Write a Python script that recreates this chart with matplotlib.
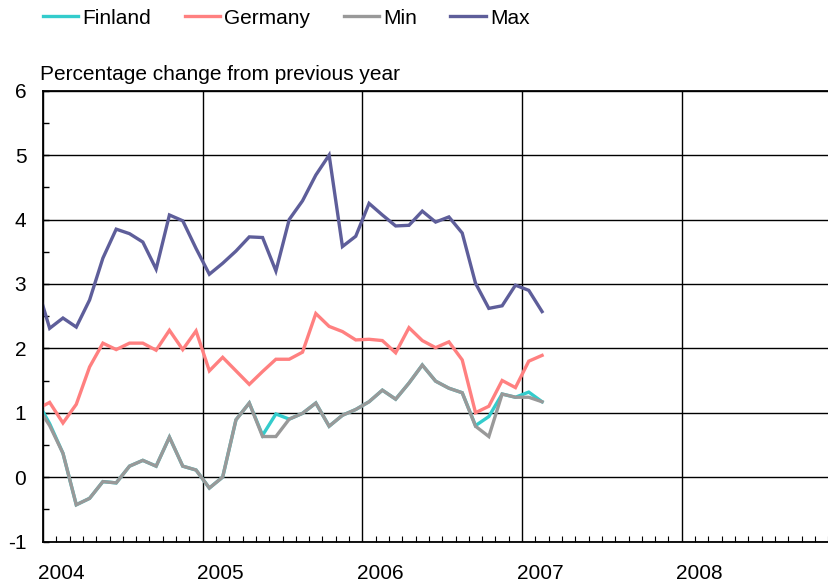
import matplotlib
matplotlib.use('Agg')
import matplotlib.pyplot as plt
import matplotlib.transforms as mtransforms
import numpy as np
import pandas as pd

plt.rcParams['font.family'] = ['Liberation Sans', 'DejaVu Sans']
plt.rcParams['font.size'] = 15
plt.rcParams['axes.unicode_minus'] = False

# monthly, Dec 2003 .. Feb 2007 (Dec 2003 only feeds the clipped first segment)
months = pd.period_range('2003-12', '2007-02', freq='M')

finland = [1.20, 0.83, 0.37, -0.43, -0.33, -0.07, -0.09, 0.17, 0.26, 0.17, 0.62, 0.17, 0.11,
           -0.17, 0.00, 0.89, 1.15, 0.65, 0.98, 0.90, 0.99, 1.15, 0.79, 0.96, 1.05,
           1.17, 1.35, 1.21, 1.46, 1.74, 1.49, 1.38, 1.31, 0.80, 0.94, 1.29, 1.24,
           1.32, 1.17]
germany = [1.05, 1.16, 0.84, 1.13, 1.71, 2.08, 1.98, 2.08, 2.08, 1.97, 2.28, 1.98, 2.27,
           1.65, 1.86, 1.65, 1.44, 1.64, 1.83, 1.83, 1.94, 2.54, 2.34, 2.26, 2.13,
           2.14, 2.12, 1.93, 2.32, 2.12, 2.01, 2.10, 1.82, 1.00, 1.10, 1.50, 1.39,
           1.80, 1.89]
minimum = [1.12, 0.80, 0.37, -0.43, -0.33, -0.07, -0.09, 0.17, 0.26, 0.17, 0.62, 0.17, 0.11,
           -0.17, 0.00, 0.89, 1.15, 0.63, 0.63, 0.90, 0.99, 1.15, 0.79, 0.96, 1.05,
           1.17, 1.35, 1.21, 1.46, 1.74, 1.49, 1.38, 1.31, 0.79, 0.63, 1.29, 1.24,
           1.24, 1.17]
maximum = [3.00, 2.31, 2.47, 2.33, 2.75, 3.40, 3.85, 3.78, 3.65, 3.23, 4.07, 3.98, 3.55,
           3.15, 3.32, 3.51, 3.73, 3.72, 3.20, 4.00, 4.29, 4.69, 5.00, 3.58, 3.74,
           4.25, 4.07, 3.90, 3.91, 4.13, 3.96, 4.04, 3.79, 3.01, 2.62, 2.66, 2.98,
           2.90, 2.57]

years = [2004, 2005, 2006, 2007, 2008]
series = [("Finland", finland, '#33CCCC'),
          ("Germany", germany, '#FF8080'),
          ("Min", minimum, '#999999'),
          ("Max", maximum, '#5E5E9A')]

# mid-month positions in decimal years
x = np.array([m.year + (m.month - 0.5) / 12 for m in months])

fig = plt.figure(figsize=(8.29, 5.86), dpi=100)
ax = fig.add_axes([43 / 829, 1 - 541.5 / 586, 798.5 / 829, 450.8 / 586])

for name, vals, col in series:
    ax.plot(x, vals, color=col, lw=2.4, label=name, solid_joinstyle='miter')

ax.set_xlim(2004, 2009)
ax.set_ylim(-1, 6)

ax.set_yticks(range(-1, 7))
ax.set_yticks(np.arange(-1, 6.01, 0.5), minor=True)
ax.set_xticks(years)
ax.set_xticks(np.arange(2004, 2009.001, 1 / 12), minor=True)

ax.grid(True, which='major', color='black', lw=1.0)
ax.set_axisbelow(True)

ax.tick_params(axis='y', which='both', direction='in', length=4, width=1, pad=12)
ax.tick_params(axis='x', which='major', length=0, pad=16)
ax.tick_params(axis='x', which='minor', direction='in', length=4, width=0.8)

# year labels sit a little to the right of the year line
offset = mtransforms.ScaledTranslation(0.18, 0, fig.dpi_scale_trans)
for lab in ax.get_xticklabels():
    lab.set_transform(lab.get_transform() + offset)

for side in ['left', 'bottom', 'top']:
    ax.spines[side].set_linewidth(1.3)
ax.spines['right'].set_visible(False)

fig.text(40 / 829, 1 - 80 / 586, "Percentage change from previous year",
         ha='left', va='baseline', fontsize=15)

fig.legend(loc='center left', bbox_to_anchor=(43 / 829, 1 - 18 / 586), ncol=4,
           frameon=False, handlelength=1.7, handletextpad=0.2, columnspacing=1.6,
           borderpad=0, borderaxespad=0)

plt.savefig('out.png', dpi=100)
plt.close()
